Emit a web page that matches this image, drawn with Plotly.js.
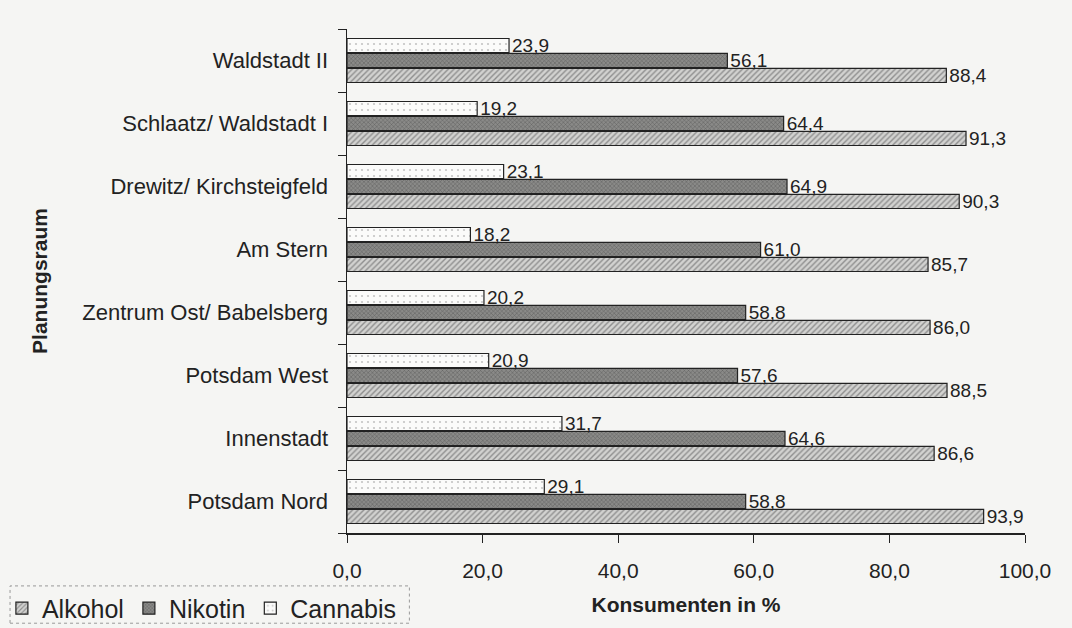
<!DOCTYPE html>
<html>
<head>
<meta charset="utf-8">
<script src="https://cdn.plot.ly/plotly-3.0.1.min.js"></script>
<style>html,body{margin:0;padding:0;background:#f5f5f3;}#chart{width:1072px;height:628px;}</style>
</head>
<body>
<div id="chart"></div>
<script>
// Categories, top to bottom as shown
const categories = ["Waldstadt II", "Schlaatz/ Waldstadt I", "Drewitz/ Kirchsteigfeld", "Am Stern",
  "Zentrum Ost/ Babelsberg", "Potsdam West", "Innenstadt", "Potsdam Nord"];
const alkohol  = [88.4, 91.3, 90.3, 85.7, 86.0, 88.5, 86.6, 93.9];
const nikotin  = [56.1, 64.4, 64.9, 61.0, 58.8, 57.6, 64.6, 58.8];
const cannabis = [23.9, 19.2, 23.1, 18.2, 20.2, 20.9, 31.7, 29.1];
const xTicks = [0, 20, 40, 60, 80, 100];

const fmt = v => v.toFixed(1).replace('.', ',');
const txtFont = {family: 'Liberation Sans, Arial, sans-serif', size: 19, color: '#222'};

function barTrace(name, vals, bg, fg, shape, size, sol) {
  return {
    type: 'bar', orientation: 'h', name: name,
    y: categories, x: vals,
    text: vals.map(fmt), textposition: 'outside', textfont: txtFont,
    constraintext: 'none', cliponaxis: false,
    marker: {color: bg, line: {color: '#222', width: 1.2},
      pattern: {shape: shape, bgcolor: bg, fgcolor: fg, size: size, solidity: sol}},
    hoverinfo: 'x+y'
  };
}

const data = [
  barTrace('Alkohol', alkohol, '#d2d2d0', '#8e8e8e', '/', 4, 0.35),
  barTrace('Nikotin', nikotin, '#8a8a88', '#5c5c5c', 'x', 3, 0.3),
  barTrace('Cannabis', cannabis, '#fbfbfa', '#c4c4c4', '.', 6, 0.1)
];

const layout = {
  width: 1072, height: 628,
  paper_bgcolor: '#f5f5f3', plot_bgcolor: '#f5f5f3',
  margin: {l: 347, r: 47, t: 29, b: 95, autoexpand: false},
  font: {family: 'Liberation Sans, Arial, sans-serif', color: '#222'},
  separators: ',.',
  barmode: 'group', bargap: 0.29, bargroupgap: 0.05,
  showlegend: true,
  legend: {orientation: 'h', x: -0.509, y: -0.104, xanchor: 'left', yanchor: 'top',
    font: {size: 25, color: '#222'}, bgcolor: 'rgba(0,0,0,0)', traceorder: 'normal', itemwidth: 30},
  xaxis: {range: [0, 100], tickvals: xTicks, tickformat: '.1f', automargin: false,
    showline: true, linecolor: '#222', linewidth: 1.5, ticks: 'outside', ticklen: 8, tickcolor: '#222',
    ticklabelstandoff: 10,
    showgrid: false, zeroline: false, tickfont: {size: 21, color: '#222'},
    title: {text: '<b>Konsumenten in %</b>', font: {size: 21, color: '#222'}, standoff: 16}},
  yaxis: {categoryorder: 'array', categoryarray: categories.slice().reverse(), automargin: false,
    showline: true, linecolor: '#222', linewidth: 1.5, ticks: 'outside', ticklen: 8, tickcolor: '#222',
    tickson: 'boundaries', ticklabelstandoff: 13,
    showgrid: false, zeroline: false, tickfont: {size: 22, color: '#222'},
    title: {text: '<b>Planungsraum</b>', font: {size: 21, color: '#222'}, standoff: 29}},
  shapes: [{type: 'rect', xref: 'paper', yref: 'paper', x0: -0.497, x1: 0.092, y0: -0.179, y1: -0.105,
    line: {color: '#999', width: 1, dash: 'dot'}, fillcolor: 'rgba(0,0,0,0)'}]
};

Plotly.newPlot('chart', data, layout, {staticPlot: true});
</script>
</body>
</html>
